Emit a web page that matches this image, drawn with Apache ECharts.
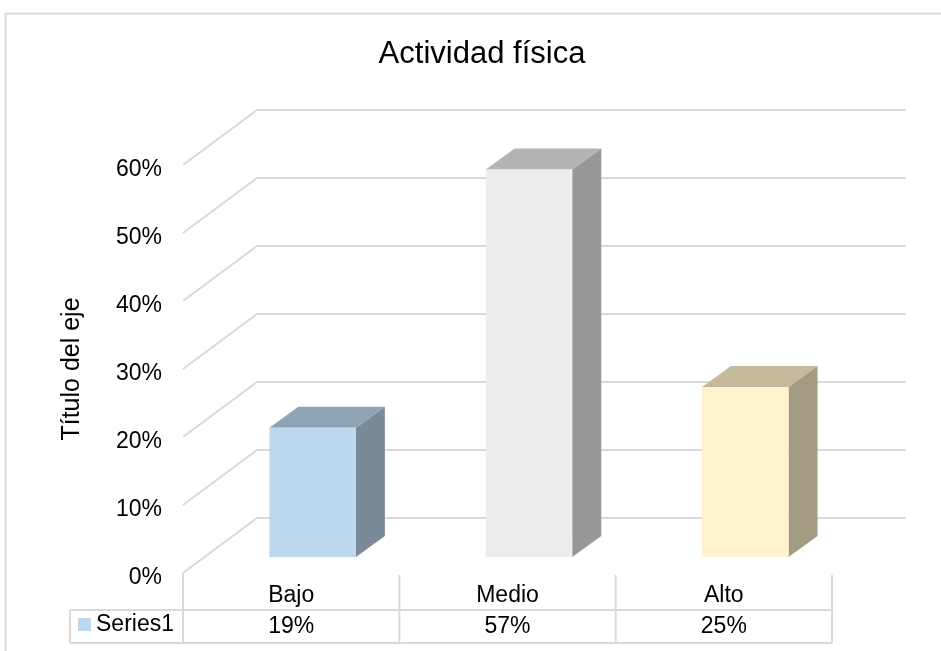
<!DOCTYPE html>
<html>
<head>
<meta charset="utf-8">
<script src="https://cdn.jsdelivr.net/npm/echarts@6/dist/echarts.min.js"></script>
<style>
  html, body { margin: 0; padding: 0; background: #fff; }
  #chart { width: 941px; height: 651px; }
</style>
</head>
<body>
<div id="chart"></div>
<script>
// Actividad física — 3D-style column chart with a data table underneath
const categories = ['Bajo', 'Medio', 'Alto'];
const values = [0.19, 0.57, 0.25];
const seriesName = 'Series1';
const yTicks = [0, 0.1, 0.2, 0.3, 0.4, 0.5, 0.6];

const FONT = 'Liberation Sans, Arial, sans-serif';
const GRID_COLOR = '#d9d9d9';
const TEXT_SIZE = 23;

// oblique depth of the plot box (front edge -> back wall)
const DEPTH = [74, -55];
const BAR_FRONT = 0.29;   // depth fraction of the bars' front faces
const BAR_DEPTH = [29, -21];
const BAR_WIDTH = 0.4;    // share of a category band

const faceColors = [
  { front: '#bdd7ee', top: '#8fa3b6', side: '#7b8a99' },
  { front: '#ededed', top: '#b4b4b4', side: '#979797' },
  { front: '#fff2cc', top: '#c4b99a', side: '#a39c82' }
];

const pct = v => Math.round(v * 100) + '%';

const chart = echarts.init(document.getElementById('chart'), null, { renderer: 'canvas' });

chart.setOption({
  animation: false,
  backgroundColor: '#ffffff',
  title: {
    text: 'Actividad física',
    left: 477,
    textAlign: 'center',
    top: 34,
    textStyle: { fontFamily: FONT, fontSize: 31, fontWeight: 'normal', color: '#000' }
  },
  legend: {
    data: [seriesName],
    left: 78,
    top: 613,
    padding: 0,
    itemWidth: 13,
    itemHeight: 13,
    itemGap: 5,
    icon: 'rect',
    selectedMode: false,
    textStyle: { fontFamily: FONT, fontSize: TEXT_SIZE, color: '#000' }
  },
  graphic: [{
    type: 'rect',
    shape: { x: 5.5, y: 13.5, width: 1000, height: 1000 },
    style: { fill: 'none', stroke: GRID_COLOR, lineWidth: 2 },
    silent: true
  }],
  grid: { left: 183, width: 649, top: 165, bottom: 78 },
  xAxis: {
    type: 'category',
    data: categories,
    axisLine: { show: false },
    axisTick: { show: false },
    axisLabel: { fontFamily: FONT, fontSize: TEXT_SIZE, color: '#000', margin: 11 },
    splitLine: { show: false }
  },
  yAxis: {
    type: 'value',
    min: 0,
    max: 0.6,
    interval: 0.1,
    axisLine: { show: false },
    axisTick: { show: false },
    splitLine: { show: false },
    axisLabel: { show: false },
    name: 'Título del eje',
    nameLocation: 'middle',
    nameRotate: 90,
    nameGap: 98,
    nameTextStyle: { fontFamily: FONT, fontSize: 25, color: '#000' }
  },
  series: [
    {
      // back wall gridlines with their oblique floor-to-wall run, plus tick labels
      type: 'custom',
      name: 'walls',
      silent: true,
      data: yTicks.map(v => [0, v]),
      renderItem: function (params, api) {
        const cs = params.coordSys;
        const v = api.value(1);
        const y = api.coord([0, v])[1];
        const x0 = cs.x;
        const xb = cs.x + DEPTH[0];
        const yb = y + DEPTH[1];
        return {
          type: 'group',
          children: [
            {
              type: 'polyline',
              shape: { points: [[x0, y], [xb, yb], [cs.x + cs.width + DEPTH[0], yb]] },
              style: { stroke: GRID_COLOR, lineWidth: 2, fill: 'none' }
            },
            {
              type: 'text',
              style: {
                text: pct(v), x: x0 - 21, y: y + 5,
                align: 'right', verticalAlign: 'middle',
                font: TEXT_SIZE + 'px ' + FONT, fill: '#000'
              }
            }
          ]
        };
      },
      z: 1
    },
    {
      type: 'custom',
      name: seriesName,
      itemStyle: { color: '#bdd7ee' },
      data: values.map((v, i) => [i, v]),
      renderItem: function (params, api) {
        const i = api.value(0);
        const base = api.coord([i, 0]);
        const top = api.coord([i, api.value(1)]);
        const band = api.size([1, 0])[0];
        const w = band * BAR_WIDTH;
        const ox = DEPTH[0] * BAR_FRONT, oy = DEPTH[1] * BAR_FRONT;
        const xl = base[0] + ox - w / 2, xr = xl + w;
        const yb = base[1] + oy, yt = top[1] + oy;
        const dx = BAR_DEPTH[0], dy = BAR_DEPTH[1];
        const c = faceColors[i];
        return {
          type: 'group',
          children: [
            { type: 'polygon', shape: { points: [[xr, yt], [xr + dx, yt + dy], [xr + dx, yb + dy], [xr, yb]] },
              style: { fill: c.side } },
            { type: 'polygon', shape: { points: [[xl, yt], [xr, yt], [xr + dx, yt + dy], [xl + dx, yt + dy]] },
              style: { fill: c.top } },
            { type: 'rect', shape: { x: xl, y: yt, width: w, height: yb - yt },
              style: { fill: c.front } }
          ]
        };
      },
      z: 2
    },
    {
      // data table: column rules and value row
      type: 'custom',
      name: 'table',
      silent: true,
      data: values.map((v, i) => [i, v]),
      renderItem: function (params, api) {
        const cs = params.coordSys;
        const i = api.value(0);
        const c = api.coord([i, 0]);
        const band = api.size([1, 0])[0];
        const yBase = cs.y + cs.height;
        const yRow = yBase + 37, yEnd = yBase + 70;
        const line = (x1, y1, x2, y2) => ({
          type: 'line', shape: { x1, y1, x2, y2 },
          style: { stroke: GRID_COLOR, lineWidth: 2 }
        });
        const xr = c[0] + band / 2;
        const children = [
          line(xr, yBase + 2, xr, yEnd),
          {
            type: 'text',
            style: {
              text: pct(api.value(1)), x: c[0], y: (yRow + yEnd) / 2,
              align: 'center', verticalAlign: 'middle',
              font: TEXT_SIZE + 'px ' + FONT, fill: '#000'
            }
          }
        ];
        if (i === 0) {
          const xl = cs.x, xk = cs.x - 113, xe = cs.x + cs.width;
          children.push(line(xl, yBase, xl, yEnd));
          children.push(line(xk, yRow, xe, yRow));
          children.push(line(xk, yEnd, xe, yEnd));
          children.push(line(xk, yRow, xk, yEnd));
        }
        return { type: 'group', children };
      },
      z: 3
    }
  ]
});
</script>
</body>
</html>
